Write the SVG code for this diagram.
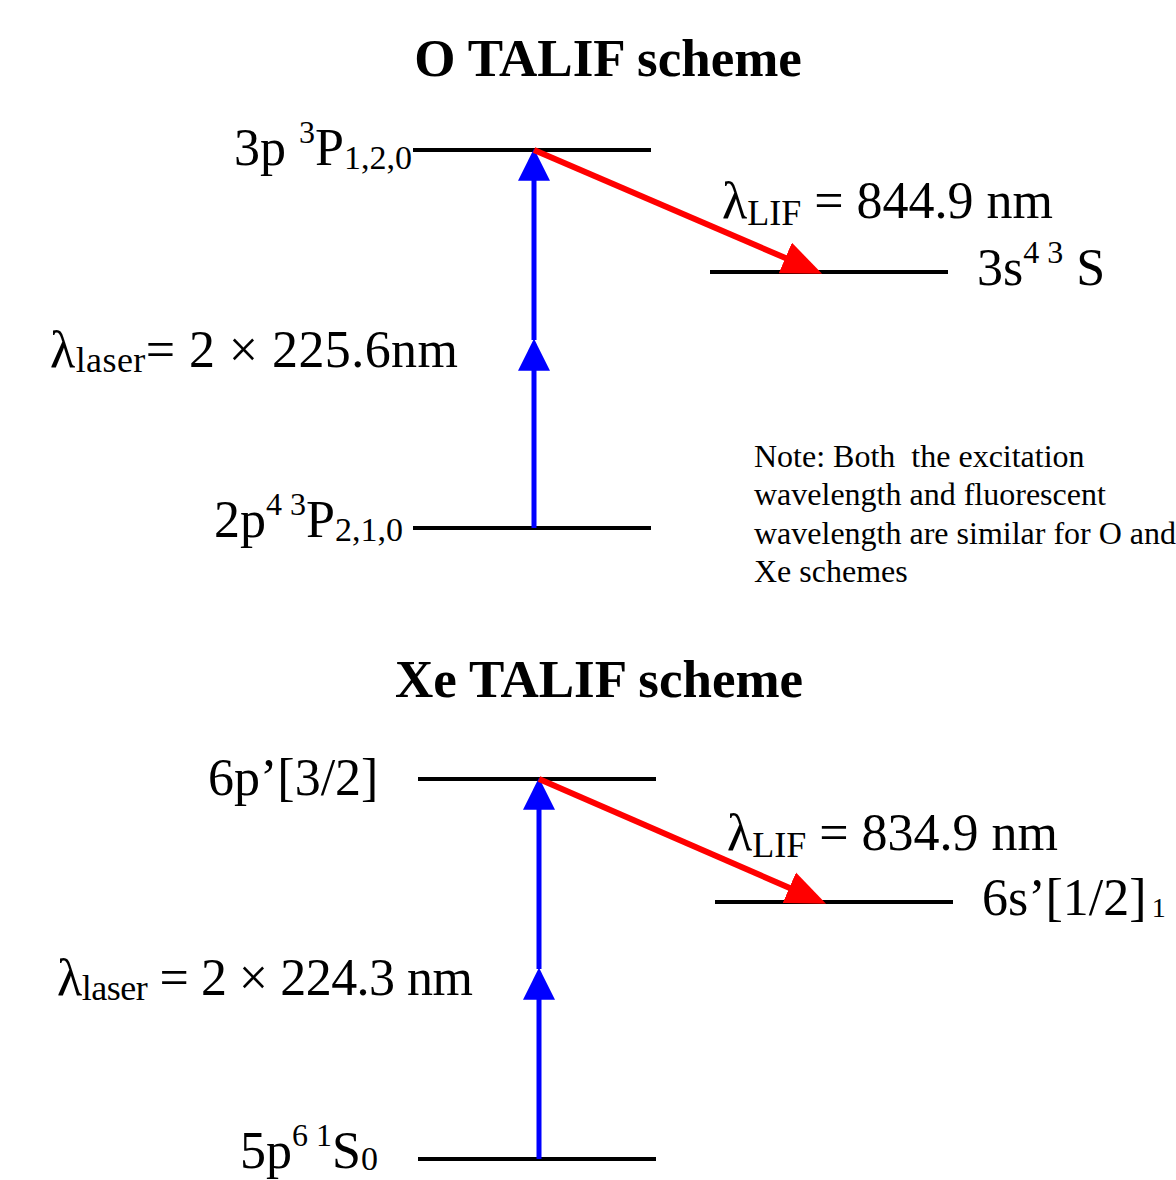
<svg xmlns="http://www.w3.org/2000/svg" width="1176" height="1180" viewBox="0 0 1176 1180">
<style>
text{font-family:"Liberation Serif","Times New Roman",serif;fill:#000}
.title{font-weight:bold;font-size:53px}
.lbl{font-size:52px}
.note{font-size:32px}
.lvl{stroke:#000;stroke-width:4;fill:none}
.up{stroke:#0000ff;stroke-width:5;fill:none}
.lif{stroke:#ff0000;stroke-width:6;fill:none}
</style>
<defs>
<marker id="ab" markerUnits="userSpaceOnUse" markerWidth="32" markerHeight="32" viewBox="0 0 30 30" refX="10" refY="15" orient="auto">
<path d="M0,0 L30,15 L0,30 z" fill="#0000ff"/>
</marker>
<marker id="ar" markerUnits="userSpaceOnUse" markerWidth="40" markerHeight="34" viewBox="0 0 36 30" refX="14" refY="15" orient="auto">
<path d="M0,0 L36,15 L0,30 z" fill="#ff0000"/>
</marker>
</defs>
<rect width="1176" height="1180" fill="#fff"/>
<text class="title" x="608" y="76" text-anchor="middle">O TALIF scheme</text>
<text class="title" x="599" y="697" text-anchor="middle">Xe TALIF scheme</text>
<g id="o_upper"><line class="lvl" x1="413" y1="150" x2="651" y2="150"/><text class="lbl" x="234" y="165">3p <tspan font-size="32" dy="-22">3</tspan><tspan dy="22">P</tspan><tspan font-size="34" dy="4">1,2,0</tspan></text></g>
<g id="o_lower"><line class="lvl" x1="413" y1="528" x2="651" y2="528"/><text class="lbl" x="214" y="537">2p<tspan font-size="32" dy="-22" xml:space="preserve">4 3</tspan><tspan dy="22">P</tspan><tspan font-size="34" dy="4">2,1,0</tspan></text></g>
<g id="o_mid"><line class="lvl" x1="710" y1="272" x2="948" y2="272"/><text class="lbl" x="977" y="285">3s<tspan font-size="32" dy="-22" xml:space="preserve">4 3</tspan><tspan dy="22" xml:space="preserve"> S</tspan></text></g>
<g id="o_laser"><text class="lbl" x="50" y="367" textLength="408" lengthAdjust="spacing">λ<tspan font-size="36" dy="5">laser</tspan><tspan dy="-5">= 2 × 225.6nm</tspan></text></g>
<g id="o_lif"><text class="lbl" x="722" y="218">λ<tspan font-size="36" dy="7">LIF</tspan><tspan dy="-7"> = 844.9 nm</tspan></text></g>
<g id="note"><text class="note" x="754" y="467" xml:space="preserve">Note: Both  the excitation</text><text class="note" x="754" y="505">wavelength and fluorescent</text><text class="note" x="754" y="544">wavelength are similar for O and</text><text class="note" x="754" y="582">Xe schemes</text></g>
<g id="xe_upper"><line class="lvl" x1="418" y1="779" x2="656" y2="779"/><text class="lbl" x="208" y="795">6p’[3/2]</text></g>
<g id="xe_lower"><line class="lvl" x1="418" y1="1159" x2="656" y2="1159"/><text class="lbl" x="240" y="1168">5p<tspan font-size="32" dy="-22" xml:space="preserve">6 1</tspan><tspan dy="22">S</tspan><tspan font-size="34" dy="2">0</tspan></text></g>
<g id="xe_mid"><line class="lvl" x1="715" y1="902" x2="953" y2="902"/><text class="lbl" x="982" y="915">6s’[1/2]<tspan font-size="28" dx="5" dy="2">1</tspan></text></g>
<g id="xe_laser"><text class="lbl" x="57" y="995" textLength="416" lengthAdjust="spacing">λ<tspan font-size="36" dy="5">laser</tspan><tspan dy="-5"> = 2 × 224.3 nm</tspan></text></g>
<g id="xe_lif"><text class="lbl" x="727" y="850">λ<tspan font-size="36" dy="7">LIF</tspan><tspan dy="-7"> = 834.9 nm</tspan></text></g>
<g id="connectors">
<line class="up" x1="534" y1="528" x2="534" y2="360" marker-end="url(#ab)"/>
<line class="up" x1="534" y1="340" x2="534" y2="170" marker-end="url(#ab)"/>
<line class="lif" x1="534" y1="150" x2="799.6" y2="264.1" marker-end="url(#ar)"/>
<line class="up" x1="539" y1="1159" x2="539" y2="989" marker-end="url(#ab)"/>
<line class="up" x1="539" y1="969" x2="539" y2="799" marker-end="url(#ab)"/>
<line class="lif" x1="539" y1="779" x2="803.6" y2="894.0" marker-end="url(#ar)"/>
</g>
</svg>
